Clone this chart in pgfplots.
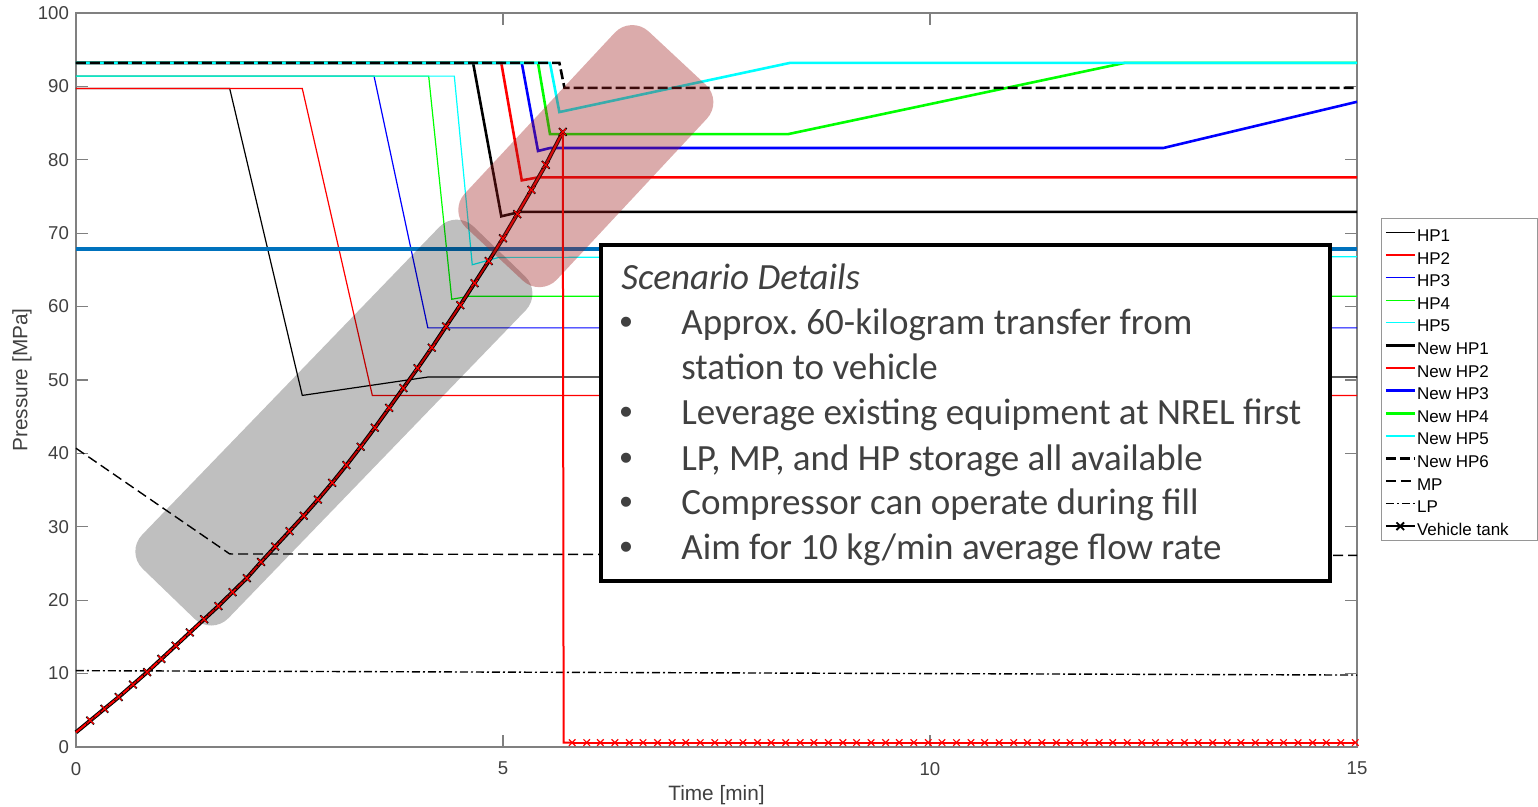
\documentclass[border=0pt]{standalone}
\usepackage{pgfplots}
\pgfplotsset{compat=1.18}
\usetikzlibrary{calc}
\usepackage{fontspec}
\setmainfont{Liberation Sans}
\newfontfamily\carlito{Carlito}
\definecolor{axgray}{RGB}{128,128,128}
\definecolor{labgray}{RGB}{64,64,64}
\definecolor{mblue}{RGB}{0,114,189}
\definecolor{hlred}{RGB}{158,28,28}
\definecolor{txtgray}{RGB}{64,64,64}
\definecolor{cyanc}{RGB}{0,255,255}
\definecolor{greenc}{RGB}{0,255,0}
\definecolor{bluec}{RGB}{0,0,255}
\definecolor{redc}{RGB}{255,0,0}
\definecolor{leggray}{RGB}{150,150,150}
\newcommand{\lgd}[1]{\makebox[58pt][l]{#1}}
\frenchspacing
\begin{document}
\begin{tikzpicture}
\begin{axis}[name=ax, at={(0,0)}, anchor=south west, scale only axis,
  width=640.5pt, height=367pt,
  xmin=0, xmax=15, ymin=0, ymax=100,
  xtick={0,5,10,15}, ytick={0,10,...,100},
  tick align=inside, xtick pos=both, ytick pos=both,
  major tick length=6pt,
  axis line style={axgray, line width=0.6pt},
  tick style={axgray, line width=0.6pt},
  ticklabel style={font=\fontsize{9.3}{11}\selectfont, text=labgray},
  /pgf/number format/assume math mode=true,
  xticklabel shift=4pt,
  xlabel={Time [min]}, ylabel={Pressure [MPa]},
  label style={font=\fontsize{10.4}{12}\selectfont, text=labgray},
  xlabel style={at={(axis description cs:0.5,-0.065)}, anchor=center},
  ylabel style={at={(axis description cs:-0.0422,0.5)}, anchor=center},
  clip=false,
  legend style={at={(1.0187,0.7208)}, anchor=north west, draw=leggray, line width=0.5pt,
    inner xsep=1.5pt, inner ysep=0pt, row sep=-2.7pt,
    font=\fontsize{8.5}{10}\selectfont,
    nodes={inner sep=0.5pt, text height=11pt, text depth=2pt}},
  legend cell align=left,
  legend image code/.code={\draw[mark repeat=2,mark phase=2,#1] plot coordinates {(0pt,0pt)(7.25pt,0pt)(14.5pt,0pt)};},
]
% HP1..HP5 (thin)
\addplot[black, line width=0.6pt] coordinates {(0,89.7)(1.8,89.7)(2.65,47.9)(4.12,50.4)(15,50.4)};
\addlegendentry{\lgd{HP1}}
\addplot[redc, line width=0.6pt] coordinates {(0,89.7)(2.65,89.7)(3.47,47.9)(15,47.9)};
\addlegendentry{\lgd{HP2}}
\addplot[bluec, line width=0.6pt] coordinates {(0,91.4)(3.49,91.4)(4.12,57.1)(15,57.1)};
\addlegendentry{\lgd{HP3}}
\addplot[greenc, line width=0.6pt] coordinates {(0,91.4)(4.13,91.4)(4.40,61.0)(4.6,61.4)(15,61.4)};
\addlegendentry{\lgd{HP4}}
\addplot[cyanc, line width=0.6pt] coordinates {(0,91.4)(4.43,91.4)(4.64,65.7)(4.95,66.7)(15,66.8)};
\addlegendentry{\lgd{HP5}}
% New HP1..HP6 (thick)
\addplot[black, line width=1.3pt] coordinates {(0,93.2)(4.65,93.2)(4.98,72.3)(5.2,72.9)(15,72.9)};
\addlegendentry{\lgd{New HP1}}
\addplot[redc, line width=1.3pt] coordinates {(0,93.2)(4.98,93.2)(5.22,77.2)(5.41,77.6)(15,77.6)};
\addlegendentry{\lgd{New HP2}}
\addplot[bluec, line width=1.3pt] coordinates {(0,93.2)(5.22,93.2)(5.41,81.2)(5.55,81.6)(12.73,81.6)(15,87.9)};
\addlegendentry{\lgd{New HP3}}
\addplot[greenc, line width=1.3pt] coordinates {(0,93.2)(5.41,93.2)(5.55,83.5)(8.34,83.5)(12.28,93.2)(15,93.2)};
\addlegendentry{\lgd{New HP4}}
\addplot[cyanc, line width=1.3pt] coordinates {(0,93.2)(5.55,93.2)(5.66,86.5)(8.36,93.2)(15,93.2)};
\addlegendentry{\lgd{New HP5}}
\addplot[black, line width=1.3pt, dash pattern=on 5pt off 2pt] coordinates {(0,93.2)(5.66,93.2)(5.72,89.8)(15,89.8)};
\addlegendentry{\lgd{New HP6}}
% MP, LP
\addplot[black, line width=0.7pt, dash pattern=on 5pt off 2.5pt] coordinates {(0,40.7)(1.8,26.3)(15,26.1)};
\addlegendentry{\lgd{MP}}
\addplot[black, line width=0.7pt, dash pattern=on 4pt off 1.5pt on 1pt off 1.5pt] coordinates {(0,10.4)(15,9.8)};
\addlegendentry{\lgd{LP}}
% thick blue reference line
\addplot[mblue, line width=2pt, forget plot] coordinates {(0,67.85)(15,67.85)};
% vehicle tank: dark underlay
\addplot[black, line width=2pt, forget plot] coordinates {
(0,2.0)(0.167,3.6)(0.333,5.2)(0.5,6.8)(0.667,8.5)(0.833,10.2)(1.0,12.0)(1.167,13.8)(1.333,15.6)(1.5,17.4)(1.667,19.2)(1.833,21.1)(2.0,23.0)(2.167,25.2)(2.333,27.3)(2.5,29.4)(2.667,31.5)(2.833,33.7)(3.0,36.0)(3.167,38.4)(3.333,40.9)(3.5,43.5)(3.667,46.2)(3.833,48.9)(4.0,51.6)(4.167,54.4)(4.333,57.3)(4.5,60.2)(4.667,63.2)(4.833,66.2)(5.0,69.3)(5.167,72.6)(5.333,75.9)(5.5,79.3)(5.70,83.8)};
\addplot[black, line width=0.8pt, mark=x, mark size=2.7pt, mark repeat=1, mark phase=2, mark options={solid, line width=0.9pt}] coordinates {
(0,2.0)(0.167,3.6)(0.333,5.2)(0.5,6.8)(0.667,8.5)(0.833,10.2)(1.0,12.0)(1.167,13.8)(1.333,15.6)(1.5,17.4)(1.667,19.2)(1.833,21.1)(2.0,23.0)(2.167,25.2)(2.333,27.3)(2.5,29.4)(2.667,31.5)(2.833,33.7)(3.0,36.0)(3.167,38.4)(3.333,40.9)(3.5,43.5)(3.667,46.2)(3.833,48.9)(4.0,51.6)(4.167,54.4)(4.333,57.3)(4.5,60.2)(4.667,63.2)(4.833,66.2)(5.0,69.3)(5.167,72.6)(5.333,75.9)(5.5,79.3)(5.70,83.8)};
\addlegendentry{\lgd{Vehicle tank}}
\addplot[redc, line width=1pt, mark=x, mark size=2.3pt, mark repeat=1, mark phase=2, mark options={solid, line width=0.6pt}, forget plot] coordinates {
(0,2.0)(0.167,3.6)(0.333,5.2)(0.5,6.8)(0.667,8.5)(0.833,10.2)(1.0,12.0)(1.167,13.8)(1.333,15.6)(1.5,17.4)(1.667,19.2)(1.833,21.1)(2.0,23.0)(2.167,25.2)(2.333,27.3)(2.5,29.4)(2.667,31.5)(2.833,33.7)(3.0,36.0)(3.167,38.4)(3.333,40.9)(3.5,43.5)(3.667,46.2)(3.833,48.9)(4.0,51.6)(4.167,54.4)(4.333,57.3)(4.5,60.2)(4.667,63.2)(4.833,66.2)(5.0,69.3)(5.167,72.6)(5.333,75.9)(5.5,79.3)(5.70,83.8)};
\addplot[redc, line width=1pt, forget plot] coordinates {(5.70,83.8)(5.71,0.6)(5.81,0.6)};
\addplot[redc, line width=1pt, mark=x, mark size=2.3pt, mark options={solid, line width=0.6pt}, forget plot] coordinates {
(5.81,0.6)(5.98,0.6)(6.14,0.6)(6.31,0.6)(6.48,0.6)(6.64,0.6)(6.81,0.6)(6.98,0.6)(7.14,0.6)(7.31,0.6)(7.48,0.6)(7.64,0.6)(7.81,0.6)(7.98,0.6)(8.14,0.6)(8.31,0.6)(8.48,0.6)(8.64,0.6)(8.81,0.6)(8.98,0.6)(9.14,0.6)(9.31,0.6)(9.48,0.6)(9.64,0.6)(9.81,0.6)(9.98,0.6)(10.14,0.6)(10.31,0.6)(10.48,0.6)(10.64,0.6)(10.81,0.6)(10.98,0.6)(11.14,0.6)(11.31,0.6)(11.48,0.6)(11.64,0.6)(11.81,0.6)(11.98,0.6)(12.14,0.6)(12.31,0.6)(12.48,0.6)(12.64,0.6)(12.81,0.6)(12.98,0.6)(13.14,0.6)(13.31,0.6)(13.48,0.6)(13.64,0.6)(13.81,0.6)(13.98,0.6)(14.14,0.6)(14.31,0.6)(14.48,0.6)(14.64,0.6)(14.81,0.6)(14.98,0.6)};
% highlight shapes
\node[fill=black, fill opacity=0.25, rounded corners=12pt, minimum width=238pt, minimum height=60pt, rotate=46, inner sep=0pt] at (axis cs:3.02,44.2) {};
\node[fill=hlred, fill opacity=0.37, rounded corners=12pt, minimum width=134pt, minimum height=63pt, rotate=47, inner sep=0pt] at (axis cs:5.97,80.5) {};
% text box
\draw[line width=2pt, fill=white] (axis cs:6.142,22.62) rectangle (axis cs:14.678,68.39);
\begin{scope}[every node/.style={anchor=base west, inner sep=0pt, font=\carlito\fontsize{18.5}{22}\selectfont, text=txtgray}]
\node at (axis cs:6.382,62.28) {\itshape Scenario Details};
\node at (axis cs:7.084,56.14) {Approx. 60-kilogram transfer from};
\node at (axis cs:7.084,50.0) {station to vehicle};
\node at (axis cs:7.084,43.87) {Leverage existing equipment at NREL first};
\node at (axis cs:7.084,37.72) {LP, MP, and HP storage all available};
\node at (axis cs:7.084,31.71) {Compressor can operate during fill};
\node at (axis cs:7.084,25.58) {Aim for 10 kg/min average flow rate};
\end{scope}
\begin{scope}[every node/.style={anchor=base west, inner sep=0pt, font=\rmfamily\fontsize{18.5}{22}\selectfont, text=txtgray}]
\node at (axis cs:6.36,56.14) {•};
\node at (axis cs:6.36,43.87) {•};
\node at (axis cs:6.36,37.72) {•};
\node at (axis cs:6.36,31.71) {•};
\node at (axis cs:6.36,25.58) {•};
\end{scope}
\end{axis}
\pgfresetboundingbox
\path[use as bounding box] ($(ax.south west)+(-38pt,-30pt)$) rectangle ($(ax.south west)+(731pt,373.5pt)$);
\end{tikzpicture}
\end{document}
